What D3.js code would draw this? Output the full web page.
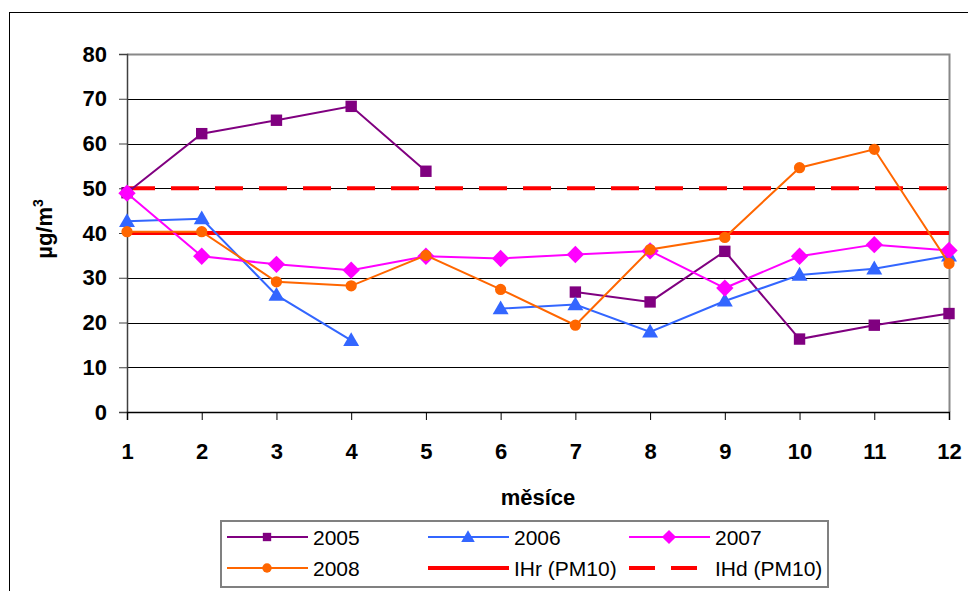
<!DOCTYPE html>
<html>
<head>
<meta charset="utf-8">
<script src="https://cdn.jsdelivr.net/npm/d3@7"></script>
<style>
  html, body { margin: 0; padding: 0; background: #fff; }
  svg { display: block; font-family: "Liberation Sans", Arial, sans-serif; }
</style>
</head>
<body>
<svg id="chart" width="968" height="591"></svg>
<script>
// Monthly PM10 concentrations (µg/m³) by year; null = no measurement
const months = [1, 2, 3, 4, 5, 6, 7, 8, 9, 10, 11, 12];
const v2005 = [49.0, 62.2, 65.2, 68.3, 53.8, null, 26.8, 24.6, 35.9, 16.3, 19.4, 22.0];
const v2006 = [42.6, 43.2, 26.1, 16.0, null, 23.1, 24.0, 17.9, 24.8, 30.6, 32.0, 34.9];
const v2007 = [48.9, 34.8, 33.0, 31.7, 34.8, 34.3, 35.2, 36.0, 27.7, 34.8, 37.4, 36.1];
const v2008 = [40.3, 40.3, 29.1, 28.2, 35.0, 27.4, 19.4, 36.3, 39.0, 54.6, 58.7, 33.2];
// Limit values
const limitIHr = 40;   // annual limit
const limitIHd = 50;   // daily limit
const yTicks = [0, 10, 20, 30, 40, 50, 60, 70, 80];

// Square rotated by 45° (equal width and height)
const symbolRhomb = {
  draw(ctx, size) {
    const r = Math.sqrt(size / 2);
    ctx.moveTo(0, -r); ctx.lineTo(r, 0); ctx.lineTo(0, r); ctx.lineTo(-r, 0); ctx.closePath();
  }
};

const series = [
  { name: "2005", values: v2005, color: "#800080", symbol: d3.symbolSquare, size: 130, lsize: 70, dy: 0 },
  { name: "2006", values: v2006, color: "#3366FF", symbol: d3.symbolTriangle, size: 110, lsize: 80, dy: 1 },
  { name: "2007", values: v2007, color: "#FF00FF", symbol: symbolRhomb, size: 150, lsize: 100, dy: 0 },
  { name: "2008", values: v2008, color: "#FF6600", symbol: d3.symbolCircle, size: 100, lsize: 70, dy: 0 }
];

const svg = d3.select("#chart");
const plotL = 127, plotR = 949, plotT = 54, plotB = 412;

const x = d3.scaleLinear().domain([1, 12]).range([plotL, plotR]);
const y = d3.scaleLinear().domain([0, 80]).range([plotB, plotT]);

// Outer chart frame
svg.append("rect")
  .attr("x", 9.5).attr("y", 12.5)
  .attr("width", 1000).attr("height", 700)
  .attr("fill", "#fff").attr("stroke", "#000").attr("stroke-width", 1);

// Horizontal gridlines
svg.append("g")
  .selectAll("line")
  .data(yTicks.filter(t => t > 0 && t < 80))
  .join("line")
  .attr("x1", plotL).attr("x2", plotR)
  .attr("y1", d => Math.round(y(d)) + 0.5).attr("y2", d => Math.round(y(d)) + 0.5)
  .attr("stroke", "#000").attr("stroke-width", 1);

// Plot-area border (top and right)
svg.append("path")
  .attr("d", `M${plotL},${plotT + 0.5}H${plotR + 0.5}V${plotB}`)
  .attr("fill", "none").attr("stroke", "#888").attr("stroke-width", 2);

// Y axis
const yAxis = svg.append("g")
  .attr("transform", `translate(${plotL},0)`)
  .call(d3.axisLeft(y).tickValues(yTicks).tickSize(8).tickPadding(12));
yAxis.select(".domain").attr("stroke", "#404040").attr("stroke-width", 1.5);
yAxis.selectAll(".tick line").attr("stroke", "#404040");
yAxis.selectAll("text")
  .attr("font-size", 22).attr("font-weight", "bold").attr("fill", "#000")
  .attr("font-family", "Liberation Sans, Arial, sans-serif");

// X axis
const xAxis = svg.append("g")
  .attr("transform", `translate(0,${plotB})`)
  .call(d3.axisBottom(x).tickValues(months).tickFormat(d3.format("d")).tickSize(8).tickPadding(23));
xAxis.select(".domain").attr("stroke", "#000").attr("stroke-width", 1.5);
xAxis.selectAll(".tick line").attr("stroke", "#000");
xAxis.selectAll("text")
  .attr("font-size", 22).attr("font-weight", "bold").attr("fill", "#000")
  .attr("font-family", "Liberation Sans, Arial, sans-serif");

// Limit lines
svg.append("line")
  .attr("x1", x(1)).attr("x2", x(12))
  .attr("y1", y(limitIHr)).attr("y2", y(limitIHr))
  .attr("stroke", "#FF0000").attr("stroke-width", 4);
svg.append("line")
  .attr("x1", x(1)).attr("x2", x(12))
  .attr("y1", y(limitIHd)).attr("y2", y(limitIHd))
  .attr("stroke", "#FF0000").attr("stroke-width", 4)
  .attr("stroke-dasharray", "28,16");

// Data series
const line = d3.line()
  .defined(d => d.v !== null)
  .x(d => x(d.m))
  .y(d => y(d.v));

series.forEach(s => {
  const pts = months.map((m, i) => ({ m, v: s.values[i] }));
  svg.append("path")
    .datum(pts)
    .attr("d", line)
    .attr("fill", "none")
    .attr("stroke", s.color)
    .attr("stroke-width", 2);
  svg.append("g")
    .selectAll("path")
    .data(pts.filter(d => d.v !== null))
    .join("path")
    .attr("d", d3.symbol().type(s.symbol).size(s.size))
    .attr("transform", d => `translate(${x(d.m)},${y(d.v) + s.dy})`)
    .attr("fill", s.color);
});

// Axis titles
svg.append("text")
  .attr("transform", "translate(52,229) rotate(-90)")
  .attr("text-anchor", "middle")
  .attr("font-size", 22).attr("font-weight", "bold")
  .html('µg/m<tspan dy="-9" font-size="14">3</tspan>');

svg.append("text")
  .attr("x", 538).attr("y", 505)
  .attr("text-anchor", "middle")
  .attr("font-size", 22).attr("font-weight", "bold")
  .text("měsíce");

// Legend
const legend = svg.append("g");
legend.append("rect")
  .attr("x", 221).attr("y", 521)
  .attr("width", 607).attr("height", 66)
  .attr("fill", "#fff").attr("stroke", "#808080").attr("stroke-width", 2);

const legendItems = [
  { label: "2005", s: series[0] },
  { label: "2006", s: series[1] },
  { label: "2007", s: series[2] },
  { label: "2008", s: series[3] },
  { label: "IHr (PM10)", color: "#FF0000", dash: null },
  { label: "IHd (PM10)", color: "#FF0000", dash: "26,16" }
];
const colX = [227, 428, 629];
const rowY = [537, 568];

legendItems.forEach((it, i) => {
  const cx = colX[i % 3], cy = rowY[Math.floor(i / 3)];
  const g = legend.append("g").attr("transform", `translate(${cx},${cy})`);
  if (it.s) {
    g.append("line").attr("x1", 0).attr("x2", 81).attr("y1", 0).attr("y2", 0)
      .attr("stroke", it.s.color).attr("stroke-width", 2);
    g.append("path")
      .attr("d", d3.symbol().type(it.s.symbol).size(it.s.lsize))
      .attr("transform", `translate(40,${it.s.dy})`)
      .attr("fill", it.s.color);
  } else {
    g.append("line").attr("x1", 0).attr("x2", 81).attr("y1", 0).attr("y2", 0)
      .attr("stroke", it.color).attr("stroke-width", 4)
      .attr("stroke-dasharray", it.dash);
  }
  g.append("text")
    .attr("x", 86).attr("y", 0).attr("dy", "0.36em")
    .attr("font-size", 21)
    .text(it.label);
});
</script>
</body>
</html>
